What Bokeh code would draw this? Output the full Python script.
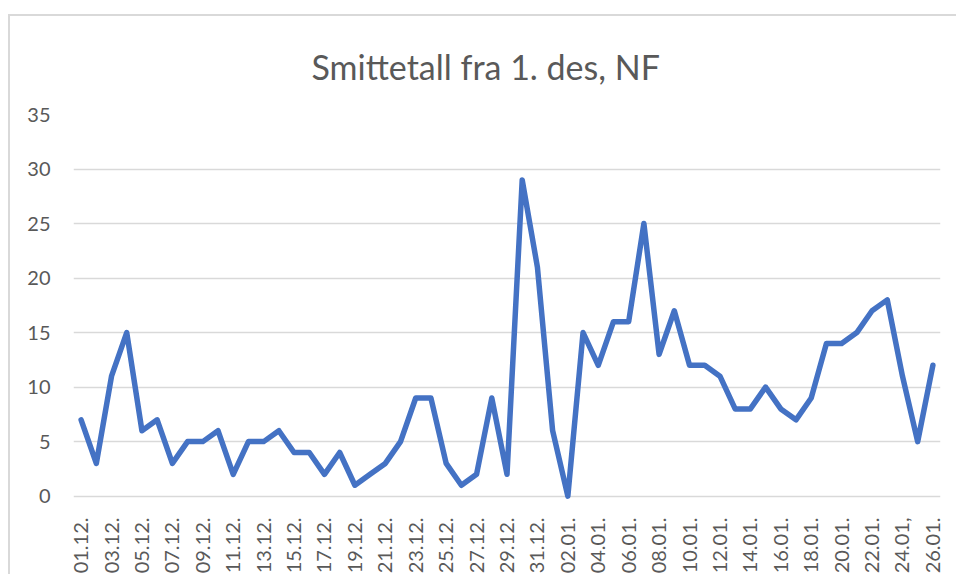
from bokeh.plotting import figure
from bokeh.models import FixedTicker, Range1d, ColumnDataSource
from bokeh.embed import file_html
from bokeh.resources import INLINE

title_text = "Smittetall fra 1. des, NF"

dates = [
    "01.12.", "02.12.", "03.12.", "04.12.", "05.12.", "06.12.", "07.12.", "08.12.",
    "09.12.", "10.12.", "11.12.", "12.12.", "13.12.", "14.12.", "15.12.", "16.12.",
    "17.12.", "18.12.", "19.12.", "20.12.", "21.12.", "22.12.", "23.12.", "24.12.",
    "25.12.", "26.12.", "27.12.", "28.12.", "29.12.", "30.12.", "31.12.",
    "01.01.", "02.01.", "03.01.", "04.01.", "05.01.", "06.01.", "07.01.", "08.01.",
    "09.01.", "10.01.", "11.01.", "12.01.", "13.01.", "14.01.", "15.01.", "16.01.",
    "17.01.", "18.01.", "19.01.", "20.01.", "21.01.", "22.01.", "23.01.", "24.01,",
    "25.01.", "26.01.",
]

cases = [
    7, 3, 11, 15, 6, 7, 3, 5, 5, 6, 2, 5, 5, 6, 4, 4, 2, 4, 1, 2, 3, 5, 9, 9, 3, 1, 2, 9, 2, 29, 21,
    6, 0, 15, 12, 16, 16, 25, 13, 17, 12, 12, 11, 8, 8, 10, 8, 7, 9, 14, 14, 15, 17, 18, 11, 5, 12,
]

y_ticks = [0, 5, 10, 15, 20, 25, 30, 35]

idx = list(range(len(dates)))
src = ColumnDataSource(dict(x=idx, y=cases, label=dates))

TEXT = "#595959"
GRID = "#d9d9d9"
FONT = "Lato"

p = figure(
    width=948, height=560,
    output_backend="svg", toolbar_location=None,
    x_range=Range1d(-0.5, len(dates) - 0.5),
    y_range=Range1d(-0.4, 35),
    min_border_left=63, min_border_right=18, min_border_top=98, min_border_bottom=75,
)
p.styles = {"margin-left": "10px", "margin-top": "16px",
            "box-shadow": "-2px -2px 0 0 #d9d9d9"}

p.title.text = title_text
p.title.align = "left"
p.title.offset = 238
p.title.vertical_align = "bottom"
p.title.text_font = FONT
p.title.text_font_size = "34px"
p.title.text_font_style = "normal"
p.title.text_color = TEXT
p.title.standoff = 55

p.outline_line_color = None
p.background_fill_color = "white"
p.border_fill_color = "white"

p.line("x", "y", source=src, line_color="#4472C4", line_width=5.5,
       line_join="round", line_cap="round")

# y axis
p.yaxis.ticker = FixedTicker(ticks=y_ticks)
p.yaxis.axis_line_color = None
p.yaxis.major_tick_line_color = None
p.yaxis.minor_tick_line_color = None
p.yaxis.major_label_standoff = 17
p.yaxis.major_label_text_font = FONT
p.yaxis.major_label_text_font_size = "20px"
p.yaxis.major_label_text_color = TEXT

# x axis
shown = idx[::2]
p.xaxis.ticker = FixedTicker(ticks=shown)
p.xaxis.major_label_overrides = {i: dates[i] for i in shown}
p.xaxis.major_label_orientation = 1.5707963
p.xaxis.axis_line_color = None
p.xaxis.major_tick_line_color = None
p.xaxis.minor_tick_line_color = None
p.xaxis.major_label_standoff = 11
p.xaxis.major_label_text_font = FONT
p.xaxis.major_label_text_font_size = "20px"
p.xaxis.major_label_text_color = TEXT

p.xgrid.grid_line_color = None
p.ygrid.ticker = FixedTicker(ticks=y_ticks)
p.ygrid.grid_line_color = GRID
p.ygrid.grid_line_width = 1.5

open("out.html", "w").write(file_html(p, INLINE))
